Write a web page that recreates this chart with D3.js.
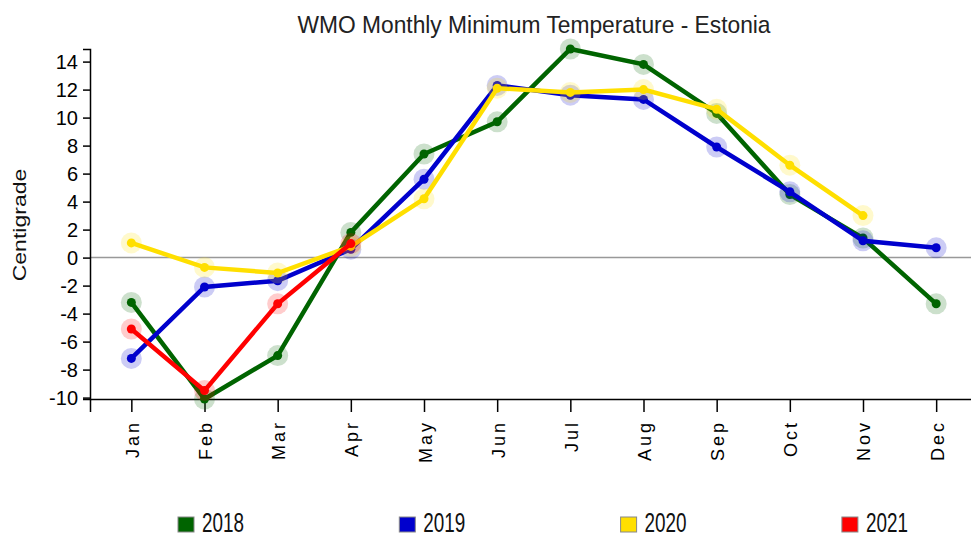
<!DOCTYPE html>
<html>
<head>
<meta charset="utf-8">
<script src="https://cdn.jsdelivr.net/npm/d3@7"></script>
<style>
body { margin: 0; background: #fff; }
text { font-family: "Liberation Sans", Arial, sans-serif; }
</style>
</head>
<body>
<div id="chart"></div>
<script>
// monthly minimum temperature
let months = ["Jan", "Feb", "Mar", "Apr", "May", "Jun", "Jul", "Aug", "Sep", "Oct", "Nov", "Dec"];
let years = ["2018", "2019", "2020", "2021"];
let colors = ["#006400", "#0000cd", "#ffdf00", "#ff0000"];

let t2018 = [-3.2, -10.1, -7.0, 1.8, 7.4, 9.7, 14.9, 13.8, 10.3, 4.5, 1.4, -3.3];
let t2019 = [-7.2, -2.1, -1.65, 0.6, 5.6, 12.3, 11.6, 11.3, 7.9, 4.7, 1.2, 0.7];
let t2020 = [1.05, -0.7, -1.1, 0.8, 4.2, 12.1, 11.8, 12.0, 10.6, 6.6, 3.0, null];
let t2021 = [-5.1, -9.5, -3.3, 1.0, null, null, null, null, null, null, null, null];

let series = [t2018, t2019, t2020, t2021];

let width = 971,
    height = 537;

let svg = d3.select("#chart")
    .append("svg")
    .attr("width", width)
    .attr("height", height);

let x = d3.scalePoint()
    .domain(months)
    .range([90, 977.5])
    .padding(0.565);

let allVals = series.flat().filter(v => v != null);
let y = d3.scaleLinear()
    .domain(d3.extent(allVals))
    .range([399, 49]);

// title
svg.append("text")
    .attr("transform", "translate(534,33) scale(0.95,1)")
    .attr("text-anchor", "middle")
    .style("font-size", "24px")
    .style("fill", "#222")
    .text("WMO Monthly Minimum Temperature - Estonia");

// y label
svg.append("text")
    .attr("transform", "translate(26,225) rotate(-90) scale(1.28,1)")
    .attr("text-anchor", "middle")
    .style("font-size", "18px")
    .style("fill", "#111")
    .text("Centigrade");

// zero line
svg.append("line")
    .attr("x1", 90).attr("x2", width)
    .attr("y1", y(0)).attr("y2", y(0))
    .style("stroke", "#999")
    .style("stroke-width", 1.5);

let yAxis = svg.append("g")
    .attr("transform", "translate(90,0)")
    .call(d3.axisLeft(y).tickSize(7).tickPadding(5).tickFormat(d => String(d)));
yAxis.selectAll("text").style("font-size", "20px").style("fill", "#000");

let xAxis = svg.append("g")
    .attr("transform", "translate(0,399)")
    .call(d3.axisBottom(x).tickSize(13));
xAxis.selectAll("text")
    .attr("transform", "rotate(-90)")
    .attr("text-anchor", "end")
    .attr("x", -21)
    .attr("y", 7)
    .attr("dy", 0)
    .style("font-size", "18px")
    .style("letter-spacing", "3px")
    .style("fill", "#000");

svg.selectAll(".domain, .tick line")
    .style("stroke", "#000")
    .style("stroke-width", 1.5);

let line = d3.line()
    .defined(d => d != null)
    .x((d, i) => x(months[i]))
    .y(d => y(d));

series.forEach((vals, k) => {
    let g = svg.append("g").attr("class", "series");
    g.append("path")
        .attr("d", line(vals))
        .style("fill", "none")
        .style("stroke", colors[k])
        .style("stroke-width", 4.5);
    let pts = vals.map((v, i) => ({m: months[i], v: v})).filter(d => d.v != null);
    g.selectAll(".halo")
        .data(pts)
        .enter().append("circle")
        .attr("class", "halo")
        .attr("cx", d => x(d.m))
        .attr("cy", d => y(d.v))
        .attr("r", 10.5)
        .style("fill", colors[k])
        .style("opacity", 0.2);
    g.selectAll(".dot")
        .data(pts)
        .enter().append("circle")
        .attr("class", "dot")
        .attr("cx", d => x(d.m))
        .attr("cy", d => y(d.v))
        .attr("r", 4.5)
        .style("fill", colors[k]);
});

// legend
let legend = svg.selectAll(".legend")
    .data(years)
    .enter().append("g")
    .attr("class", "legend")
    .attr("transform", (d, i) => "translate(" + (178 + i * 221.3) + ",0)");

legend.append("rect")
    .attr("x", 0).attr("y", 517)
    .attr("width", 16).attr("height", 15)
    .style("fill", (d, i) => colors[i])
    .style("stroke", "#888");

legend.append("text")
    .attr("transform", "translate(24,532) scale(0.7,1)")
    .style("font-size", "27px")
    .style("fill", "#111")
    .text(d => d);
</script>
</body>
</html>
